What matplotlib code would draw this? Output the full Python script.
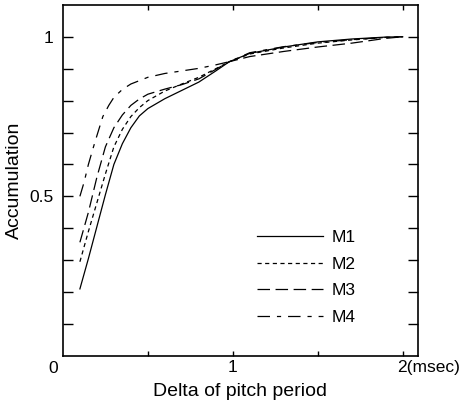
import matplotlib
matplotlib.use("Agg")
import matplotlib.pyplot as plt
from matplotlib.transforms import offset_copy
import numpy as np

plt.rcParams['font.family'] = ['Liberation Sans', 'DejaVu Sans']
plt.rcParams['lines.scale_dashes'] = False

# delta of pitch period (msec) vs accumulation
x_m1 = [0.10, 0.15, 0.20, 0.25, 0.30, 0.35, 0.40, 0.45, 0.50, 0.60, 0.70, 0.80, 0.90, 0.98,
        1.10, 1.30, 1.50, 1.70, 1.90, 2.00]
y_m1 = [0.21, 0.305, 0.405, 0.505, 0.60, 0.665, 0.715, 0.752, 0.775, 0.806, 0.832, 0.858, 0.893, 0.922,
        0.948, 0.968, 0.984, 0.993, 0.999, 1.00]

x_m2 = [0.10, 0.15, 0.20, 0.25, 0.30, 0.35, 0.40, 0.45, 0.50, 0.60, 0.70, 0.80, 0.90, 0.98,
        1.10, 1.30, 1.50, 1.70, 1.90, 2.00]
y_m2 = [0.295, 0.39, 0.48, 0.57, 0.655, 0.71, 0.75, 0.778, 0.80, 0.83, 0.852, 0.873, 0.90, 0.922,
        0.946, 0.965, 0.980, 0.990, 0.998, 1.00]

x_m3 = [0.10, 0.15, 0.20, 0.25, 0.30, 0.35, 0.40, 0.45, 0.50, 0.60, 0.70, 0.80, 0.90, 0.98,
        1.10, 1.30, 1.50, 1.70, 1.90, 2.00]
y_m3 = [0.356, 0.45, 0.56, 0.655, 0.715, 0.755, 0.785, 0.805, 0.82, 0.836, 0.85, 0.868, 0.898, 0.922,
        0.938, 0.954, 0.968, 0.980, 0.995, 1.00]

x_m4 = [0.10, 0.125, 0.15, 0.18, 0.20, 0.235, 0.27, 0.30, 0.35, 0.40, 0.50, 0.60, 0.70, 0.80, 0.90, 0.98,
        1.10, 1.30, 1.50, 1.70, 1.90, 2.00]
y_m4 = [0.50, 0.545, 0.60, 0.655, 0.69, 0.75, 0.785, 0.81, 0.835, 0.852, 0.873, 0.885, 0.893, 0.901, 0.912, 0.922,
        0.950, 0.969, 0.982, 0.991, 0.998, 1.00]

labels = ["M1", "M2", "M3", "M4"]

fig = plt.figure(figsize=(4.66, 4.04), dpi=100)
ax = fig.add_axes([0.135, 0.119, 0.762, 0.869])

lw = 0.9
ax.plot(x_m1, y_m1, color='k', lw=lw, label=labels[0])
ax.plot(x_m2, y_m2, color='k', lw=lw, dashes=(3, 2.5), label=labels[1])
ax.plot(x_m3, y_m3, color='k', lw=lw, dashes=(9, 4), label=labels[2])
ax.plot(x_m4, y_m4, color='k', lw=lw, dashes=(9, 5, 3, 5), label=labels[3])

ax.set_xlim(0, 2.09)
ax.set_ylim(0, 1.1)

ax.set_yticks([0.5, 1.0])
ax.set_yticklabels(["0.5", "1"])
ax.set_yticks(np.arange(0.1, 1.1, 0.1), minor=True)
ax.set_xticks([1.0])
ax.set_xticklabels(["1"])
ax.set_xticks([0.5, 1.5, 2.0], minor=True)

ax.tick_params(axis='y', which='both', direction='in', length=7, width=1,
               left=True, right=True, labelsize=12.5, pad=7)
ax.tick_params(axis='x', which='both', direction='in', length=3.5, width=1,
               bottom=True, top=True, labelsize=12.5, pad=3)

for s in ax.spines.values():
    s.set_linewidth(1.2)

# origin and unit labels
ax.text(0, 0, "0", fontsize=12.5, ha='right', va='top',
        transform=offset_copy(ax.transAxes, fig=fig, x=-5, y=-5, units='dots'))
ax.text(2.0, 0, "2(msec)", fontsize=12.5, ha='left', va='top',
        transform=offset_copy(ax.get_xaxis_transform(), fig=fig, x=-6, y=-4, units='dots'))

ax.set_xlabel("Delta of pitch period", fontsize=14, labelpad=6)
ax.set_ylabel("Accumulation", fontsize=14, labelpad=4)

ax.legend(loc='upper left', bbox_to_anchor=(0.546, 0.358), frameon=False,
          fontsize=12.5, handlelength=3.8, handletextpad=0.5, labelspacing=0.65,
          borderpad=0, borderaxespad=0)

fig.savefig("out.png", dpi=100)
